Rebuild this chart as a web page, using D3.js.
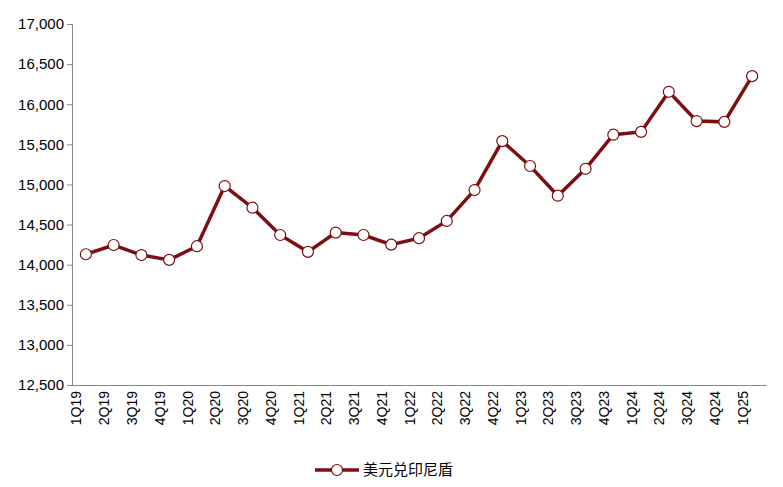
<!DOCTYPE html><html><head><meta charset="utf-8">
<script src="https://cdn.jsdelivr.net/npm/d3@7"></script>
<style>body{margin:0;background:#fff}text{font-family:Arial,"Liberation Sans","Noto Sans CJK SC",sans-serif}</style></head><body>
<svg id="c" width="783" height="487"></svg>
<script>
const categories=["1Q19","2Q19","3Q19","4Q19","1Q20","2Q20","3Q20","4Q20","1Q21","2Q21","3Q21","4Q21","1Q22","2Q22","3Q22","4Q22","1Q23","2Q23","3Q23","4Q23","1Q24","2Q24","3Q24","4Q24","1Q25"];
const values=[14130,14245,14120,14060,14230,14980,14710,14370,14160,14400,14370,14250,14330,14545,14930,15540,15230,14860,15195,15620,15655,16155,15790,15780,16350];
const yTicks=[12500,13000,13500,14000,14500,15000,15500,16000,16500,17000];
const seriesName="美元兑印尼盾";
const svg=d3.select("#c");
const L=72,R=766,T=24,B=385,col="#7b0f12";
const x=d3.scalePoint().domain(categories).range([L,R]).padding(0.5);
const y=d3.scaleLinear().domain([12500,17000]).range([B,T]);
const ya=svg.append("g").attr("transform",`translate(${L},0)`).call(d3.axisLeft(y).tickValues(yTicks).tickFormat(d3.format(",")).tickSize(5));
ya.selectAll("text").attr("font-size",15).attr("fill","#000");
ya.selectAll("line,path").attr("stroke","#888");
const xa=svg.append("g").attr("transform",`translate(0,${B})`).call(d3.axisBottom(x).tickSize(0).tickSizeOuter(0));
xa.select("path").attr("stroke","#888");
xa.selectAll("text").attr("font-size",14).attr("fill","#000").attr("transform","rotate(-90)").attr("text-anchor","end").attr("dx","-6").attr("dy","-0.35em").attr("x",0).attr("y",0);
svg.append("path").datum(values).attr("fill","none").attr("stroke",col).attr("stroke-width",3.5)
 .attr("d",d3.line().x((d,i)=>x(categories[i])).y(d=>y(d)));
svg.selectAll("circle.p").data(values).enter().append("circle").attr("cx",(d,i)=>x(categories[i])).attr("cy",d=>y(d)).attr("r",5.5).attr("fill","#fff").attr("stroke",col).attr("stroke-width",1.2);
const lg=svg.append("g").attr("transform","translate(315,470)");
lg.append("line").attr("x1",0).attr("x2",44).attr("stroke",col).attr("stroke-width",3.5);
lg.append("circle").attr("cx",22).attr("r",5.5).attr("fill","#fff").attr("stroke",col).attr("stroke-width",1.2);
lg.append("text").attr("x",48).attr("y",5).attr("font-size",15).text(seriesName);
</script></body></html>
